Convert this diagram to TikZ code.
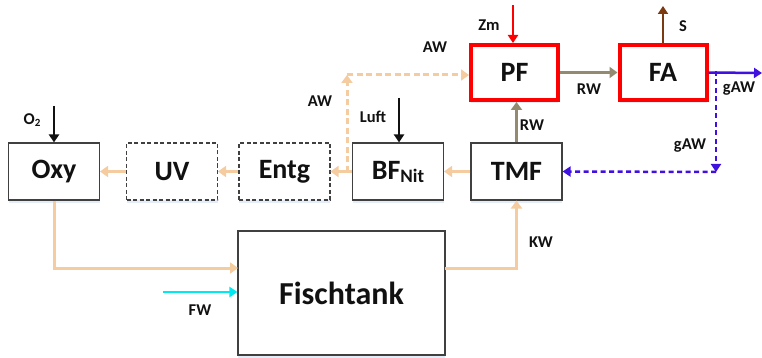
\documentclass[tikz,border=0pt]{standalone}
\usepackage{fontspec}
\setmainfont{Carlito}
\usepackage{tikz}
\usetikzlibrary{arrows.meta, shadows}
\definecolor{ink}{HTML}{111111}
\definecolor{frame}{HTML}{404040}
\definecolor{tan}{HTML}{F5CBA0}
\definecolor{rwgray}{HTML}{948A70}
\definecolor{hot}{HTML}{FF0000}
\definecolor{rust}{HTML}{7B3A10}
\definecolor{violet}{HTML}{4010E0}
\definecolor{aqua}{HTML}{00E8F0}
\definecolor{haze}{HTML}{E4ECF8}
\tikzset{
  font=\bfseries,
  %
  unit/.style={
    draw=frame, line width=1.1pt, fill=white, text=ink, align=center,
    minimum width=91pt, minimum height=57pt, inner sep=0pt,
    font=\fontsize{28}{28}\selectfont\bfseries,
    drop shadow={fill=haze, opacity=1, shadow xshift=0pt, shadow yshift=-3pt},
  },
  unitdash/.style={unit, dashed, dash pattern=on 4pt off 2.5pt},
  unitred/.style={unit, draw=hot, line width=4pt,
                  minimum width=87pt, minimum height=55pt},
  %
  pipe/.style={draw=tan, line width=3pt, -{Triangle[length=8pt, width=11pt]}},
  pipedash/.style={pipe, dash pattern=on 6pt off 3.5pt},
  rw/.style={pipe, draw=rwgray},
  gaw/.style={draw=violet, line width=2.5pt, -{Triangle[length=8pt, width=10pt]}},
  gawdash/.style={gaw, dash pattern=on 5pt off 3.5pt},
  feed/.style={draw=ink, line width=2pt, -{Triangle[length=8pt, width=10pt]}},
  %
  lbl/.style={text=ink, inner sep=0pt, font=\fontsize{16.5}{16.5}\selectfont\bfseries},
}

\begin{document}
\begin{tikzpicture}[x=1pt, y=-1pt]
\useasboundingbox (0,0) rectangle (762,358);

% -------------------------------------------------------------------------
% units
% -------------------------------------------------------------------------
\node[unit]     (oxy)  at (54,171.5)    {Oxy};
\node[unitdash] (uv)   at (172,171.5)   {UV};
\node[unitdash] (entg) at (284.5,171.5) {Entg};
\node[unit]     (bf)   at (398,171.5)
  {BF\raisebox{-3pt}{\fontsize{19}{19}\selectfont Nit}};
\node[unit]     (tmf)  at (516.5,171.5) {TMF};
\node[unitred]  (pf)   at (514.5,72.5)  {PF};
\node[unitred]  (fa)   at (663,72.5)    {FA};
\node[unit, minimum width=207pt, minimum height=124pt,
      font=\fontsize{32}{32}\selectfont\bfseries] (tank) at (341.5,293) {Fischtank};

% free ends
\coordinate (o2top)    at (54,106);
\coordinate (lufttop)  at (399,98);
\coordinate (zmtop)    at (513,5);
\coordinate (stop)     at (663,6);
\coordinate (gawend)   at (762,73);
\coordinate (fwstart)  at (163,292);
\coordinate (awsplit)  at (347,172);
\coordinate (awcorner) at (347,75);
\coordinate (gawtop)   at (716,73);
\coordinate (gawcorner) at (716,172);
\coordinate (tankin)   at (238,268);
\coordinate (tankout)  at (444.5,268);

% -------------------------------------------------------------------------
% water loop
% -------------------------------------------------------------------------
\draw[pipe] (tankout) -| (tmf.south);
\draw[pipe] (tmf.west) -- (bf.east);
\draw[pipe] (bf.west) -- (entg.east);
\draw[pipe] (entg.west) -- (uv.east);
\draw[pipe] (uv.west) -- (oxy.east);
\draw[pipe] (oxy.south) |- (tankin);
\draw[draw=aqua, line width=2.5pt, -{Triangle[length=8pt, width=10pt]}]
  (fwstart) -- (tank.west |- fwstart);

% AW branch up to the plant filter
\draw[pipedash] (awsplit) -- (awcorner);
\draw[pipedash] (awcorner) -- (pf.west |- awcorner);

% RW and gAW
\draw[rw] (tmf.north) -- (tmf.north |- pf.south);
\draw[rw] (pf.east) -- (fa.west);
\draw[gaw] (fa.east) -- (gawend);
\draw[gawdash] ([yshift=2pt]gawtop) -- (gawcorner);
\draw[gawdash] (gawcorner) -- (tmf.east);

% inputs and outputs
\draw[feed] (o2top) -- (oxy.north);
\draw[feed] (lufttop) -- (bf.north -| lufttop);
\draw[feed, draw=hot] (zmtop) -- (pf.north -| zmtop);
\draw[draw=rust, line width=2.5pt, -{Triangle[length=8pt, width=10pt]}]
  (fa.north) -- (stop);

% -------------------------------------------------------------------------
% labels
% -------------------------------------------------------------------------
\node[lbl] at (32,120)  {O\raisebox{-1.5pt}{\fontsize{11}{11}\selectfont 2}};
\node[lbl] at (373,117) {Luft};
\node[lbl] at (320,101) {AW};
\node[lbl] at (435,47)  {AW};
\node[lbl] at (489,25)  {Zm};
\node[lbl] at (683,26)  {S};
\node[lbl] at (589,89)  {RW};
\node[lbl] at (532,125) {RW};
\node[lbl] at (739,89)  {gAW};
\node[lbl] at (690,146) {gAW};
\node[lbl] at (541,242) {KW};
\node[lbl] at (200,310) {FW};

\end{tikzpicture}
\end{document}
